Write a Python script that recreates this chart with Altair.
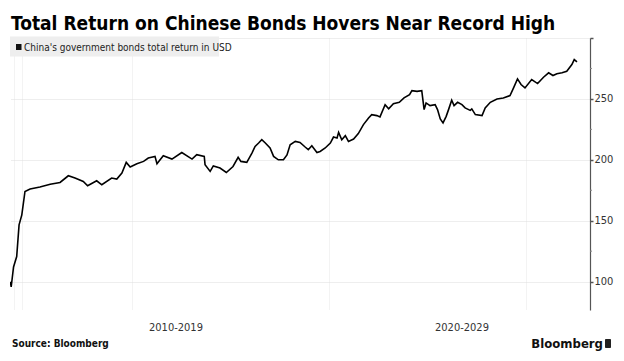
import altair as alt
import pandas as pd

# ---- data ----
years = [2011.91, 2011.93, 2011.99, 2012.07, 2012.13, 2012.20, 2012.28, 2012.41, 2012.66, 2012.92,
         2013.17, 2013.38, 2013.55, 2013.76, 2013.87, 2014.10, 2014.23, 2014.48, 2014.61, 2014.74,
         2014.85, 2014.95, 2015.12, 2015.29, 2015.41, 2015.58, 2015.63, 2015.79, 2016.01, 2016.26,
         2016.52, 2016.64, 2016.83, 2016.85, 2016.98, 2017.06, 2017.23, 2017.39, 2017.56, 2017.69,
         2017.76, 2017.91, 2018.04, 2018.12, 2018.21, 2018.29, 2018.38, 2018.50, 2018.59, 2018.71,
         2018.84, 2018.93, 2019.01, 2019.14, 2019.26, 2019.39, 2019.47, 2019.56, 2019.69, 2019.77,
         2019.90, 2020.03, 2020.11, 2020.20, 2020.24, 2020.32, 2020.41, 2020.49, 2020.62, 2020.74,
         2020.87, 2021.00, 2021.08, 2021.21, 2021.29, 2021.42, 2021.51, 2021.63, 2021.78, 2021.90,
         2022.04, 2022.10, 2022.23, 2022.35, 2022.41, 2022.46, 2022.56, 2022.69, 2022.75, 2022.82,
         2022.89, 2022.97, 2023.03, 2023.11, 2023.17, 2023.26, 2023.37, 2023.45, 2023.58, 2023.62,
         2023.71, 2023.88, 2023.96, 2024.09, 2024.26, 2024.42, 2024.59, 2024.68, 2024.78, 2024.87,
         2024.97, 2025.14, 2025.29, 2025.44, 2025.57, 2025.68, 2025.78, 2025.91, 2026.03, 2026.16,
         2026.22, 2026.29]
values = [100.0, 95.6, 112.0, 120.6, 146.6, 154.8, 174.0, 176.0, 177.6, 180.0,
          181.4, 186.9, 185.0, 182.2, 178.7, 182.8, 179.5, 185.0, 184.2, 189.1,
          197.9, 194.1, 196.8, 198.7, 201.5, 202.8, 196.8, 203.4, 200.6, 206.0,
          200.6, 204.2, 202.8, 196.0, 190.5, 195.0, 193.2, 189.6, 194.5, 202.0,
          198.7, 197.9, 205.5, 211.0, 213.8, 216.5, 213.8, 209.7, 202.8, 200.0,
          200.0, 204.0, 212.4, 215.1, 214.3, 210.5, 208.3, 211.6, 206.0, 206.9,
          209.7, 213.8, 218.7, 217.9, 222.5, 216.5, 219.8, 215.1, 217.1, 221.5,
          228.9, 234.4, 237.1, 236.3, 235.2, 245.2, 241.8, 246.1, 247.2, 250.8,
          253.5, 256.8, 256.2, 256.8, 241.2, 246.7, 244.5, 245.3, 241.2, 233.6,
          230.3, 235.7, 241.2, 248.9, 244.5, 247.2, 245.3, 242.6, 240.6, 241.8,
          237.1, 236.3, 242.6, 247.2, 249.9, 250.8, 252.7, 259.0, 266.4, 261.8,
          259.0, 265.9, 262.6, 267.8, 271.4, 269.2, 270.6, 271.4, 272.7, 278.2,
          282.3, 280.4]

title_text = "Total Return on Chinese Bonds Hovers Near Record High"
legend_text = "China's government bonds total return in USD"
decade_labels = ["2010-2019", "2020-2029"]
source_text = "Source: Bloomberg"
brand_text = "Bloomberg"
y_major = [100, 150, 200, 250, 300]
y_minor = [125, 175, 225, 275]
x_grid = [2012.0, 2012.2, 2015, 2020, 2025]

X_DOMAIN = [2011.90, 2026.62]
Y_DOMAIN = [76.7, 300]
W, H = 580, 272
FONT = "DejaVu Sans Condensed, DejaVu Sans, sans-serif"

df = pd.DataFrame({"year": years, "value": values})

xscale = alt.Scale(domain=X_DOMAIN, nice=False, zero=False)
yscale = alt.Scale(domain=Y_DOMAIN, nice=False, zero=False)

line = alt.Chart(df).mark_line(color="#000000", strokeWidth=1.6, clip=True).encode(
    x=alt.X("year:Q", scale=xscale,
            axis=alt.Axis(values=x_grid, labels=False, ticks=False, domain=False,
                          grid=True, gridColor="#e6e6e6", gridWidth=1, gridDash=[1, 1], title=None)),
    y=alt.Y("value:Q", scale=yscale,
            axis=alt.Axis(orient="right", values=y_major, title=None,
                          labelExpr="datum.value == 300 ? '' : datum.label",
                          grid=True, gridColor="#dcdcdc", gridDash=[1, 1], gridWidth=1,
                          domain=True, domainColor="#555555", domainWidth=1.2,
                          ticks=True, tickSize=3, tickColor="#555555", tickWidth=1.5,
                          labelFont=FONT, labelFontSize=11, labelColor="#333333", labelPadding=1)),
)

minor = alt.Chart(pd.DataFrame({"v": y_minor})).mark_rule(color="#888888", strokeWidth=1).encode(
    x=alt.value(W), x2=alt.value(W + 2), y=alt.Y("v:Q", scale=yscale)
)

one = alt.Data(values=[{"a": 1}])

legend_box = alt.Chart(one).mark_rect(color="#eeeeee").encode(
    x=alt.value(0), x2=alt.value(209), y=alt.value(-1.5), y2=alt.value(18.5)
)
legend_sq = alt.Chart(one).mark_rect(color="#111111").encode(
    x=alt.value(6), x2=alt.value(11.5), y=alt.value(6), y2=alt.value(12)
)
legend_txt = alt.Chart(one).mark_text(align="left", baseline="alphabetic", font=FONT,
                                       fontSize=10, color="#222222", text=legend_text).encode(
    x=alt.value(14), y=alt.value(12.5)
)
title = alt.Chart(one).mark_text(align="left", baseline="alphabetic", font=FONT,
                                 fontSize=19, fontWeight="bold", color="#000000",
                                 text=title_text).encode(
    x=alt.value(1), y=alt.value(-8)
)
dec1 = alt.Chart(one).mark_text(align="center", baseline="middle", font=FONT, fontSize=11,
                                color="#333333", text=decade_labels[0]).encode(
    x=alt.value(166), y=alt.value(290)
)
dec2 = alt.Chart(one).mark_text(align="center", baseline="middle", font=FONT, fontSize=11,
                                color="#333333", text=decade_labels[1]).encode(
    x=alt.value(452), y=alt.value(290)
)
src = alt.Chart(one).mark_text(align="left", baseline="middle", font=FONT, fontSize=10,
                               fontWeight="bold", color="#111111", text=source_text).encode(
    x=alt.value(2), y=alt.value(306)
)
brand = alt.Chart(one).mark_text(align="right", baseline="middle", font=FONT, fontSize=13,
                                 fontWeight="bold", color="#111111", text=brand_text).encode(
    x=alt.value(593), y=alt.value(306)
)
logo = alt.Chart(one).mark_rect(color="#222222", cornerRadius=1).encode(
    x=alt.value(595), x2=alt.value(601), y=alt.value(301), y2=alt.value(310)
)

chart = alt.layer(legend_box, line, minor, legend_sq, legend_txt, title, dec1, dec2, src, brand, logo).properties(
    width=W, height=H,
    autosize=alt.AutoSizeParams(type="none"),
    padding={"left": 2, "top": 30, "right": 26, "bottom": 43},
    background="#ffffff",
).configure_view(strokeWidth=0)

chart.save("out.html", embed_options={"renderer": "svg", "actions": False})
